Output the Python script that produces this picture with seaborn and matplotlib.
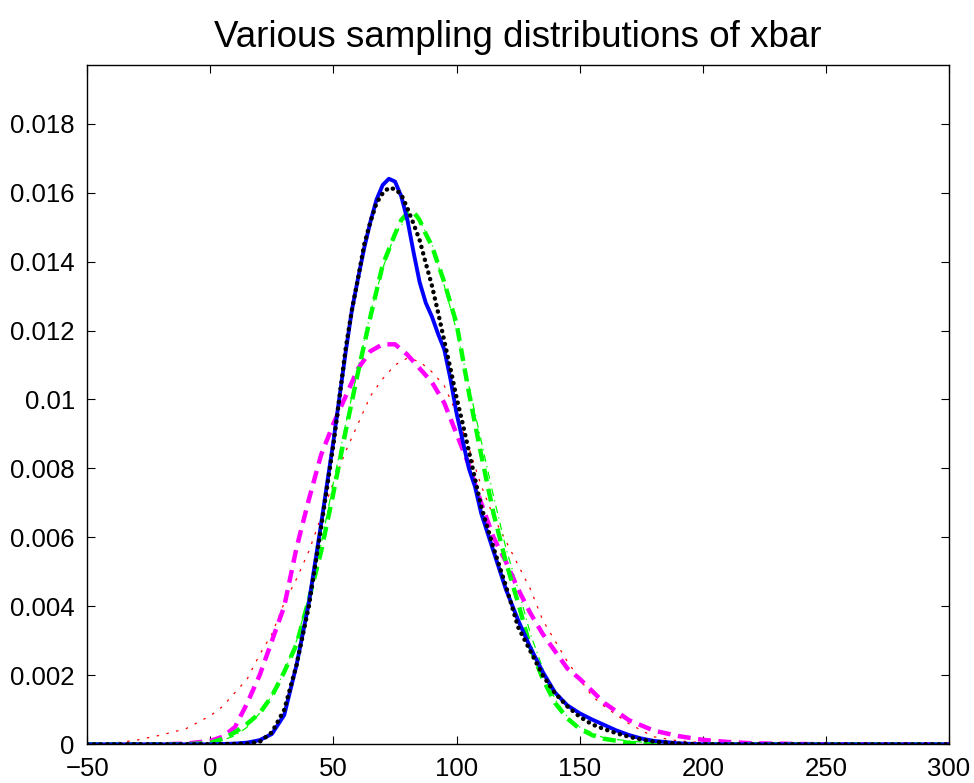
import numpy as np
import pandas as pd
import matplotlib
matplotlib.use("Agg")
import matplotlib.pyplot as plt
import seaborn as sns

# ---- data ----
x_blue = [-50, 0, 10, 15, 20, 25, 30, 35, 40, 45, 50, 55, 57.5, 60, 62.5, 65, 67.5, 70, 72.5, 75,
          77.5, 80, 82.5, 85, 87.5, 90, 92.5, 95, 97.5, 100, 102.5, 105, 107.5, 110, 115, 120, 125,
          130, 135, 140, 145, 150, 155, 160, 165, 170, 175, 180, 190, 200, 300]
y_blue = [0, 0, 0.00002, 0.00005, 0.00012, 0.0003, 0.00085, 0.0023, 0.0041, 0.0064, 0.0088, 0.0114,
          0.0126, 0.01352, 0.0144, 0.01515, 0.0158, 0.01622, 0.0164, 0.01632, 0.0159, 0.01522,
          0.01428, 0.0134, 0.0128, 0.0124, 0.0119, 0.01145, 0.0106, 0.0096, 0.0088, 0.0080, 0.00747,
          0.0067, 0.0056, 0.0045, 0.0036, 0.0028, 0.0021, 0.0015, 0.00113, 0.0009, 0.00072, 0.00056,
          0.0004, 0.00027, 0.00017, 0.0001, 0.00003, 0, 0]

x_black = [-50, 0, 15, 20, 25, 30, 35, 40, 45, 50, 55, 57.5, 60, 62.5, 65, 67.5, 70, 72.5, 75, 77.5,
           80, 82.5, 85, 87.5, 90, 92.5, 95, 97.5, 100, 102.5, 105, 107.5, 110, 115, 120, 125, 130,
           135, 140, 145, 150, 155, 160, 165, 170, 175, 180, 190, 200, 300]
y_black = [0, 0, 0.00002, 0.00007, 0.00035, 0.001, 0.0023, 0.0040, 0.0063, 0.0087, 0.0115, 0.0126,
           0.01352, 0.0145, 0.01515, 0.0157, 0.01598, 0.01614, 0.0161, 0.01595, 0.01555, 0.0151,
           0.01462, 0.01395, 0.0133, 0.01252, 0.0117, 0.0109, 0.01005, 0.0093, 0.0085, 0.0077,
           0.0069, 0.0057, 0.0046, 0.0034, 0.0027, 0.0020, 0.00148, 0.0011, 0.0008, 0.00058,
           0.00044, 0.00032, 0.00022, 0.00014, 0.00008, 0.00002, 0, 0]

x_green = [-50, -10, 0, 5, 10, 15, 20, 25, 30, 35, 40, 45, 50, 55, 60, 65, 70, 75, 77.5, 80, 82.5,
           85, 87.5, 90, 95, 100, 105, 110, 115, 120, 125, 130, 135, 140, 145, 150, 155, 160, 170,
           180, 300]
y_green = [0, 0, 0.00004, 0.00016, 0.00035, 0.0006, 0.0009, 0.0014, 0.0021, 0.0029, 0.0042, 0.0056,
           0.0073, 0.0091, 0.0108, 0.0124, 0.0139, 0.0148, 0.0152, 0.0154, 0.01545, 0.0152, 0.0148,
           0.01445, 0.0134, 0.0122, 0.0102, 0.0084, 0.0067, 0.0053, 0.0041, 0.0028, 0.0019, 0.0012,
           0.00075, 0.00045, 0.00027, 0.00016, 0.00004, 0, 0]

x_green2 = [-50, -5, 0, 5, 10, 15, 20, 25, 30, 35, 40, 45, 50, 55, 60, 65, 70, 75, 80, 82.5, 85, 90,
            95, 100, 105, 110, 115, 120, 125, 130, 135, 140, 145, 150, 160, 170, 180, 300]
y_green2 = [0, 0, 0.00004, 0.00012, 0.00025, 0.0005, 0.0009, 0.0014, 0.0021, 0.0030, 0.0043,
            0.0058, 0.0076, 0.0093, 0.0109, 0.0125, 0.0138, 0.0148, 0.0153, 0.01535, 0.0152,
            0.0145, 0.0133, 0.0120, 0.0104, 0.0088, 0.0072, 0.0057, 0.0045, 0.0032, 0.0022, 0.0013,
            0.0008, 0.0005, 0.00018, 0.0001, 0.00003, 0]

x_mag = [-50, -20, -10, 0, 5, 10, 15, 20, 25, 30, 35, 40, 45, 50, 55, 60, 65, 70, 75, 80, 85, 90,
         95, 100, 105, 110, 115, 120, 125, 130, 135, 140, 145, 150, 160, 170, 180, 190, 200, 210,
         220, 240, 250, 300]
y_mag = [0, 0, 0.00002, 0.0001, 0.00022, 0.0005, 0.0012, 0.0020, 0.0030, 0.0040, 0.0057, 0.0071,
         0.0084, 0.0093, 0.0101, 0.0109, 0.0114, 0.0116, 0.0116, 0.0113, 0.0109, 0.0105, 0.0099,
         0.0090, 0.0081, 0.0070, 0.0060, 0.0053, 0.0045, 0.0038, 0.0032, 0.0027, 0.0022, 0.0019,
         0.0012, 0.0007, 0.0004, 0.00024, 0.00013, 0.00007, 0.00003, 0.00001, 0, 0]

x_red = [-50, -40, -30, -20, -10, 0, 5, 10, 15, 20, 25, 30, 35, 40, 45, 50, 55, 60, 65, 70, 75, 80,
         85, 90, 95, 100, 105, 110, 115, 120, 125, 130, 135, 140, 145, 150, 155, 160, 170, 180, 190,
         200, 220, 250, 300]
y_red = [0, 0.00003, 0.00012, 0.00027, 0.00045, 0.00083, 0.0011, 0.0015, 0.0019, 0.0026, 0.0032,
         0.0041, 0.0048, 0.0056, 0.0066, 0.0076, 0.0085, 0.0093, 0.0101, 0.0106, 0.0110, 0.0112,
         0.0111, 0.0108, 0.0104, 0.0096, 0.0086, 0.0075, 0.0066, 0.0059, 0.0052, 0.0045, 0.0036,
         0.0030, 0.0024, 0.0019, 0.0014, 0.0011, 0.0006, 0.00022, 0.0001, 0.00005, 0.00001, 0, 0]

x_ticks = [-50, 0, 50, 100, 150, 200, 250, 300]
y_ticks = [0, 0.002, 0.004, 0.006, 0.008, 0.01, 0.012, 0.014, 0.016, 0.018]
y_tick_labels = ["0", "0.002", "0.004", "0.006", "0.008", "0.01", "0.012", "0.014", "0.016", "0.018"]
title = "Various sampling distributions of xbar"

# ---- drawing ----
sns.set_theme(style="white")
plt.rcParams["font.family"] = ["Liberation Sans", "DejaVu Sans"]
plt.rcParams["axes.unicode_minus"] = True
plt.rcParams["text.color"] = "black"

fig = plt.figure(figsize=(9.74, 7.83), dpi=100)
ax = fig.add_axes([0.0896, 0.0494, 0.8847, 0.8676])

def draw(xs, ys, **kw):
    df = pd.DataFrame({"x": xs, "y": ys})
    sns.lineplot(data=df, x="x", y="y", ax=ax, sort=False, estimator=None, **kw)

draw(x_red, y_red, color=(1, 0, 0), linewidth=0.9, linestyle=(0, (2.0, 6.0)))
draw(x_green2, y_green2, color=(0, 1, 0), linewidth=0.9, linestyle=(0, (6.0, 3.5, 1.0, 3.5)))
draw(x_mag, y_mag, color=(1, 0, 1), linewidth=3.2, linestyle=(0, (2.9, 1.7)))
draw(x_green, y_green, color=(0, 1, 0), linewidth=3.2, linestyle=(0, (2.9, 1.7)))
draw(x_blue, y_blue, color=(0, 0, 1), linewidth=2.8, solid_capstyle="round", solid_joinstyle="round")
draw(x_black, y_black, color="black", linewidth=3.2, linestyle=(0, (0.05, 1.45)),
     dash_capstyle="round")

ax.set_xlim(-50, 300)
ax.set_ylim(0, 0.0197)
ax.set_xticks(x_ticks)
ax.set_xticklabels([str(v).replace("-", "\u2212") for v in x_ticks])
ax.set_yticks(y_ticks)
ax.set_yticklabels(y_tick_labels)
ax.set_xlabel("")
ax.set_ylabel("")
ax.set_title(title, fontsize=26.5, pad=13, color="black")

for s in ax.spines.values():
    s.set_visible(True)
    s.set_color("black")
    s.set_linewidth(1.0)
ax.tick_params(axis="both", which="both", direction="in", length=6, width=0.8,
               top=True, right=True, bottom=True, left=True, labelsize=18.5, colors="black")
ax.tick_params(axis="y", pad=9)
ax.tick_params(axis="x", pad=9)
ax.grid(False)
ax.set_facecolor("white")
fig.patch.set_facecolor("white")

fig.savefig("out.png", dpi=100)
